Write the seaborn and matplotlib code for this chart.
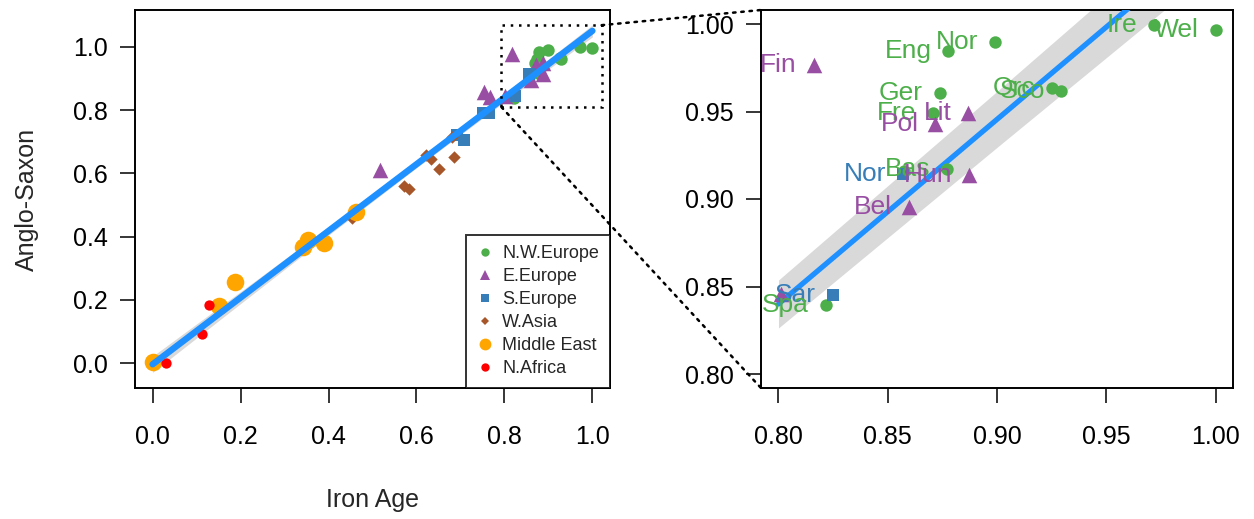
import matplotlib
matplotlib.use("Agg")
import matplotlib.pyplot as plt
import seaborn as sns
import pandas as pd
from matplotlib.lines import Line2D
from matplotlib.patches import Rectangle, ConnectionPatch

# -----------------------------
# Data
# -----------------------------
regions = ["N.W.Europe", "E.Europe", "S.Europe", "W.Asia", "Middle East", "N.Africa"]
colors = ["#4DAF4A", "#984EA3", "#377EB8", "#A65628", "#FFA500", "#FF0000"]
markers = ["o", "^", "s", "D", "o", "o"]
sizes = [80, 125, 85, 40, 160, 55]
legend_sizes = [6.0, 7.5, 6.0, 4.2, 8.5, 6.0]

nw_x = [0.8778, 0.8992, 0.9719, 1.0000, 0.8737, 0.9253, 0.9295, 0.8705, 0.8773, 0.8216, 0.8575]
nw_y = [0.9847, 0.9898, 0.9994, 0.9966, 0.9608, 0.9636, 0.9620, 0.9489, 0.9170, 0.8392, 0.9160]
nw_lab = ["Eng", "Nor", "Ire", "Wel", "Ger", "Orc", "Sco", "Fre", "Bas", "Spa", ""]

ee_x = [0.8161, 0.8869, 0.8718, 0.8873, 0.8595, 0.8010, 0.753, 0.768, 0.516]
ee_y = [0.9767, 0.9494, 0.9426, 0.9136, 0.8955, 0.8460, 0.859, 0.843, 0.612]
ee_lab = ["Fin", "Lit", "Pol", "Hun", "Bel", "Rom", "", "", ""]

se_x = [0.8568, 0.8248, 0.693, 0.709, 0.752, 0.765]
se_y = [0.9142, 0.8449, 0.722, 0.707, 0.791, 0.791]
se_lab = ["Nor", "Sar", "", "", "", ""]

wa_x = [0.621, 0.634, 0.651, 0.685, 0.571, 0.583, 0.453, 0.680]
wa_y = [0.659, 0.646, 0.614, 0.651, 0.559, 0.552, 0.460, 0.715]

me_x = [0.462, 0.341, 0.354, 0.390, 0.188, 0.150, 0.000]
me_y = [0.479, 0.368, 0.389, 0.381, 0.256, 0.181, 0.002]

na_x = [0.129, 0.113, 0.031]
na_y = [0.183, 0.091, -0.001]

# fitted line and its confidence band
fit_x = [0.0, 0.8, 1.0]
fit_y = [-0.004, 0.840, 1.051]
band_x = [0.0, 0.2, 0.4, 0.6, 0.8, 0.9, 1.0]
band_lo = [-0.0295, 0.188, 0.4045, 0.6176, 0.8263, 0.9295, 1.032]
band_hi = [0.0215, 0.226, 0.4315, 0.6404, 0.8537, 0.9615, 1.070]

# zoom window drawn on the left panel
zoom_x = [0.793, 1.021]
zoom_y = [0.810, 1.069]

group_x = [nw_x, ee_x, se_x, wa_x, me_x, na_x]
group_y = [nw_y, ee_y, se_y, wa_y, me_y, na_y]
group_lab = [nw_lab, ee_lab, se_lab, [""] * len(wa_x), [""] * len(me_x), [""] * len(na_x)]

frames = []
for reg, xs, ys, labs in zip(regions, group_x, group_y, group_lab):
    frames.append(pd.DataFrame({"iron": xs, "anglo": ys, "region": reg, "label": labs}))
df = pd.concat(frames, ignore_index=True)

# -----------------------------
# Style
# -----------------------------
sns.set_theme(style="ticks")
plt.rcParams["font.family"] = ["Liberation Sans", "DejaVu Sans"]
plt.rcParams["axes.edgecolor"] = "black"
plt.rcParams["axes.linewidth"] = 1.4

LINE_COL = "#1E90FF"
BAND_COL = "#D9D9D9"
TICK_FS = 18

fig = plt.figure(figsize=(12.54, 5.19), dpi=100)
ax1 = fig.add_axes([135 / 1254, 131 / 519, 475 / 1254, 378 / 519])
ax2 = fig.add_axes([761 / 1254, 131 / 519, 472 / 1254, 378 / 519])


def draw_points(ax):
    for reg, col, mk, s in zip(regions, colors, markers, sizes):
        sub = df[df["region"] == reg]
        sns.scatterplot(data=sub, x="iron", y="anglo", ax=ax, color=col,
                        marker=mk, s=s, linewidth=0, legend=False, zorder=3)


# -----------------------------
# Left panel
# -----------------------------
ax1.fill_between(band_x, band_lo, band_hi, color=BAND_COL, lw=0, zorder=2)
draw_points(ax1)
sns.lineplot(x=[fit_x[0], fit_x[-1]], y=[fit_y[0], fit_y[-1]], ax=ax1,
             color=LINE_COL, lw=4.6, solid_capstyle="round", zorder=4)

ax1.add_patch(Rectangle((zoom_x[0], zoom_y[0]), zoom_x[1] - zoom_x[0], zoom_y[1] - zoom_y[0],
                        fill=False, ec="black", lw=1.8, ls=(0, (1, 2.3)), zorder=5))

ax1.set_xlim(-0.04, 1.04)
ax1.set_ylim(-0.079, 1.117)
ax1.set_xticks([0.0, 0.2, 0.4, 0.6, 0.8, 1.0])
ax1.set_yticks([0.0, 0.2, 0.4, 0.6, 0.8, 1.0])
ax1.set_xticklabels([f"{v:.1f}" for v in ax1.get_xticks()])
ax1.set_yticklabels([f"{v:.1f}" for v in ax1.get_yticks()])
ax1.set_xlabel("Iron Age", fontsize=18, labelpad=28)
ax1.set_ylabel("Anglo-Saxon", fontsize=18, labelpad=24)

handles = [Line2D([], [], ls="", marker=mk, color=col, markersize=ms, markeredgewidth=0)
           for mk, col, ms in zip(markers, colors, legend_sizes)]
leg = ax1.legend(handles, regions, loc="lower right", fontsize=13, frameon=True,
                 fancybox=False, edgecolor="black", borderaxespad=0, borderpad=0.6,
                 labelspacing=0.33, handlelength=0.9, handletextpad=0.5)
leg.get_frame().set_linewidth(1.4)
leg.set_zorder(6)

# -----------------------------
# Right panel (zoom)
# -----------------------------
rb = [i for i, v in enumerate(band_x) if v >= 0.8]
ax2.fill_between([band_x[i] for i in rb], [band_lo[i] for i in rb], [band_hi[i] for i in rb],
                 color=BAND_COL, lw=0, zorder=2)
sns.lineplot(x=fit_x[1:], y=fit_y[1:], ax=ax2, color=LINE_COL, lw=3.8, zorder=3)
draw_points(ax2)

label_order = ["S.Europe", "N.W.Europe", "E.Europe"]
for reg in label_order:
    col = colors[regions.index(reg)]
    sub = df[(df["region"] == reg) & (df["label"] != "")]
    for _, r in sub.iterrows():
        ax2.annotate(r["label"], (r["iron"], r["anglo"]), xytext=(-12.0, 0),
                     textcoords="offset points", ha="right", va="center",
                     fontsize=19, color=col, clip_on=True, zorder=5)

ax2.set_xlim(0.792, 1.008)
ax2.set_ylim(0.792, 1.008)
ax2.set_xticks([0.80, 0.85, 0.90, 0.95, 1.00])
ax2.set_yticks([0.80, 0.85, 0.90, 0.95, 1.00])
ax2.set_xticklabels([f"{v:.2f}" for v in ax2.get_xticks()])
ax2.set_yticklabels([f"{v:.2f}" for v in ax2.get_yticks()])
ax2.set_xlabel("")
ax2.set_ylabel("")

for ax in (ax1, ax2):
    for sp in ax.spines.values():
        sp.set_visible(True)
        sp.set_linewidth(1.4)
    ax.tick_params(axis="x", direction="out", length=10.8, width=1.1, pad=16,
                   labelsize=TICK_FS, colors="black")
    ax.tick_params(axis="y", direction="out", length=10.8, width=1.1, pad=9,
                   labelsize=TICK_FS, colors="black")

# dotted connectors between zoom box and right panel
con_top = ConnectionPatch(xyA=(zoom_x[1], zoom_y[1]), coordsA=ax1.transData,
                          xyB=(0, 1), coordsB=ax2.transAxes,
                          color="black", lw=1.8, ls=(0, (1, 2.3)))
con_bot = ConnectionPatch(xyA=(zoom_x[0], zoom_y[0]), coordsA=ax1.transData,
                          xyB=(0, 0), coordsB=ax2.transAxes,
                          color="black", lw=1.8, ls=(0, (1, 2.3)))
fig.add_artist(con_top)
fig.add_artist(con_bot)

fig.savefig("out.png", dpi=100)
plt.close(fig)
